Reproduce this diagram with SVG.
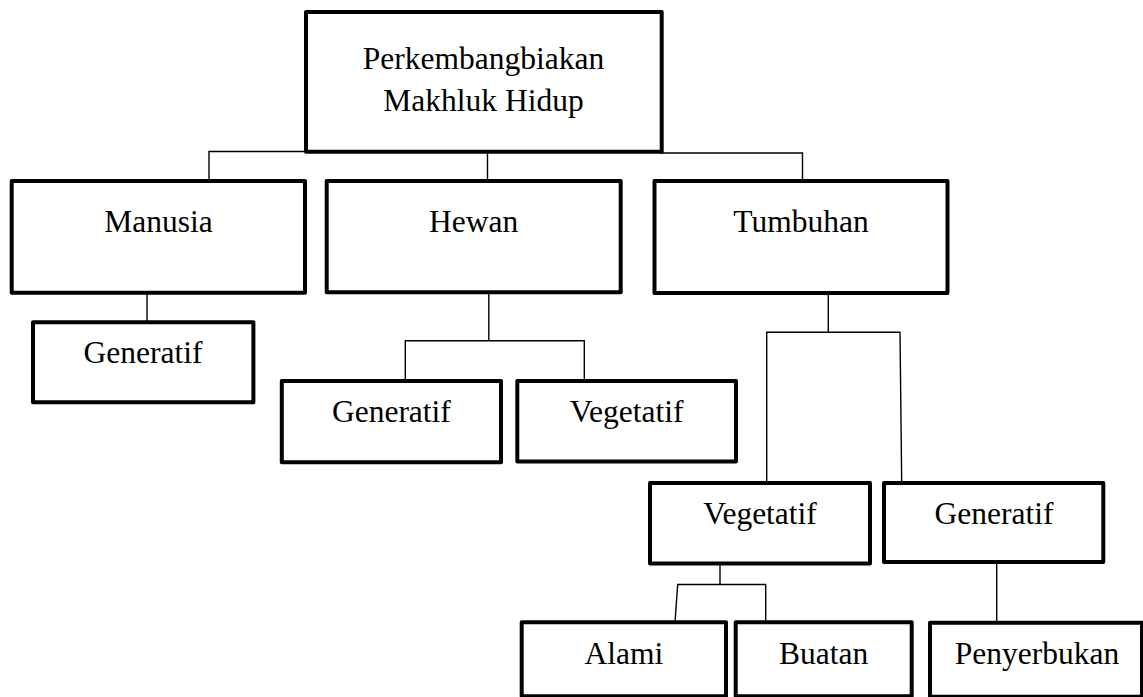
<svg xmlns="http://www.w3.org/2000/svg" width="1143" height="697" viewBox="0 0 1143 697">
<style>
.box{fill:#fff;stroke:#000;stroke-width:4;stroke-linejoin:round}
.conn{fill:none;stroke:#000;stroke-width:1.4}
.t{font-family:"Liberation Serif","Times New Roman",serif;font-size:31.5px;fill:#000;text-anchor:middle}
</style>
<rect width="1143" height="697" fill="#fff"/>
<g id="connectors">
<path class="conn" d="M209 181 V151.5 H308"/>
<path class="conn" d="M660 153 H802.5 V181"/>
<path class="conn" d="M487.5 150 V181"/>
<path class="conn" d="M147 292 V322"/>
<path class="conn" d="M488.8 292 V340.7"/>
<path class="conn" d="M405.3 381 V340.7 H584.3 V381"/>
<path class="conn" d="M828.3 292 V332.3"/>
<path class="conn" d="M766.7 483 V332.3 H900 L901.7 483"/>
<path class="conn" d="M720 563 V584.5"/>
<path class="conn" d="M675 622 L677.7 584.5 H765.7 V622"/>
<path class="conn" d="M996.7 562 V622"/>
</g>
<g id="root">
<rect class="box" x="306" y="12" width="355.7" height="139.7"/>
<text class="t" x="483.5" y="69">Perkembangbiakan</text>
<text class="t" x="483.5" y="110.7">Makhluk Hidup</text>
</g>
<g id="manusia">
<rect class="box" x="11.7" y="181" width="293.3" height="111.7"/>
<text class="t" x="158.5" y="231.5">Manusia</text>
</g>
<g id="hewan">
<rect class="box" x="326.7" y="181" width="294" height="111.3"/>
<text class="t" x="473.7" y="231.5">Hewan</text>
</g>
<g id="tumbuhan">
<rect class="box" x="654.5" y="181" width="293" height="112"/>
<text class="t" x="801" y="231.5">Tumbuhan</text>
</g>
<g id="manusia-generatif">
<rect class="box" x="33" y="322.3" width="220.4" height="80"/>
<text class="t" x="143" y="363.3">Generatif</text>
</g>
<g id="hewan-generatif">
<rect class="box" x="281.8" y="381" width="219.2" height="81.3"/>
<text class="t" x="391.4" y="421.7">Generatif</text>
</g>
<g id="hewan-vegetatif">
<rect class="box" x="517.3" y="381" width="218.7" height="80.5"/>
<text class="t" x="626.7" y="421.7">Vegetatif</text>
</g>
<g id="tumbuhan-vegetatif">
<rect class="box" x="650" y="483" width="220" height="80.5"/>
<text class="t" x="760" y="524">Vegetatif</text>
</g>
<g id="tumbuhan-generatif">
<rect class="box" x="884" y="483" width="219.3" height="79"/>
<text class="t" x="994" y="524">Generatif</text>
</g>
<g id="alami">
<rect class="box" x="521.7" y="622.3" width="204.3" height="74"/>
<text class="t" x="623.8" y="664">Alami</text>
</g>
<g id="buatan">
<rect class="box" x="735.7" y="622.3" width="176" height="74"/>
<text class="t" x="823.7" y="664">Buatan</text>
</g>
<g id="penyerbukan">
<rect class="box" x="930" y="622.7" width="212" height="74"/>
<text class="t" x="1037" y="664">Penyerbukan</text>
</g>
</svg>
